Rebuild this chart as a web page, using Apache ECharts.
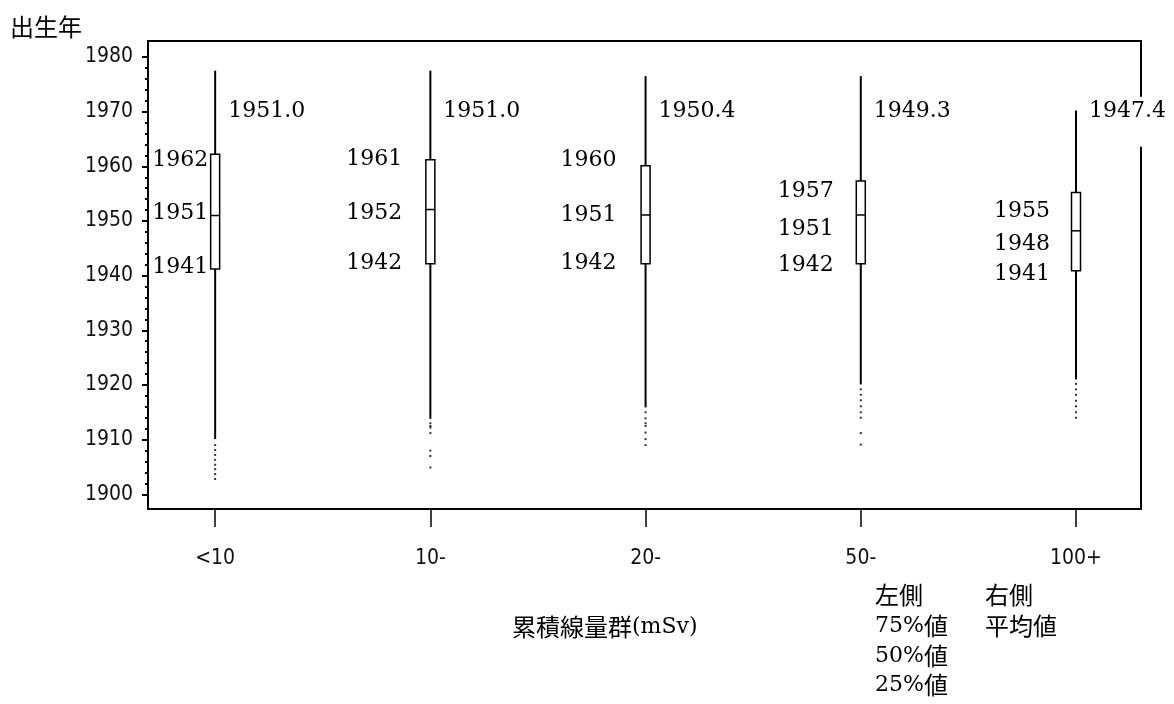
<!DOCTYPE html>
<html><head><meta charset="utf-8">
<script src="https://cdn.jsdelivr.net/npm/echarts@6/dist/echarts.min.js"></script>
<style>html,body{margin:0;padding:0;background:#fff}#c{width:1174px;height:704px}</style>
</head><body><div id="c"></div>
<script>
// ---- data ----
const categories = ['<10', '10-', '20-', '50-', '100+'];
const whiskerHigh = [1977.5, 1977.5, 1976.5, 1976.5, 1970.2];
const q3Values    = [1962.2, 1961.2, 1960.1, 1957.3, 1955.2];
const medianValues= [1951.0, 1952.1, 1951.1, 1951.1, 1948.2];
const q1Values    = [1941.2, 1942.2, 1942.2, 1942.2, 1940.9];
const whiskerLow  = [1910.1, 1913.8, 1915.9, 1920.1, 1921.0];
const meanValues  = [1951.0, 1951.0, 1950.4, 1949.3, 1947.4];
const outliersLt10 = [1909.0, 1908.1, 1907.2, 1906.3, 1905.4, 1904.6, 1903.7, 1902.8];
const outliers10   = [1913.0, 1912.5, 1912.2, 1911.2, 1908.0, 1907.0, 1904.9];
const outliers20   = [1915.0, 1913.9, 1913.0, 1912.5, 1911.3, 1910.1, 1909.0];
const outliers50   = [1919.2, 1918.2, 1917.2, 1916.1, 1915.0, 1914.0, 1911.2, 1909.1];
const outliers100  = [1920.2, 1919.2, 1918.2, 1917.1, 1916.1, 1915.0, 1914.0];
const yTickLabels = [1900, 1910, 1920, 1930, 1940, 1950, 1960, 1970, 1980];
const yMinorTicks = [1902,1904,1906,1908,1912,1914,1916,1918,1922,1924,1926,1928,1932,1934,1936,1938,
                     1942,1944,1946,1948,1952,1954,1956,1958,1962,1964,1966,1968,1972,1974,1976,1978];
const meanLabelLevel = 1970;

// ---- label placement (style, pixel offsets) ----
const labelDx = [-7, -28, -29, -27, -26];
const labelDy = [[6, -2, -2], [0, 4, 0], [-6, 0, 0], [10, 14, 2], [19, 13, 4]];

const allOutliers = [outliersLt10, outliers10, outliers20, outliers50, outliers100];
const outlierData = [];
allOutliers.forEach((arr, i) => arr.forEach(v => outlierData.push([i, v])));

const boxData = categories.map((c, i) => [i, whiskerHigh[i], q3Values[i], medianValues[i], q1Values[i], whiskerLow[i], meanValues[i]]);

const SERIF = '22px "DejaVu Serif"';
const CJK = '"Noto Sans CJK JP"';
const TICKFONT = '"DejaVu Sans Condensed", "DejaVu Sans"';

const chart = echarts.init(document.getElementById('c'), null, {renderer: 'canvas'});
chart.setOption({
  animation: false,
  backgroundColor: '#fff',
  grid: {left: 148, top: 41, right: 33, bottom: 195, show: true, borderColor: '#000', borderWidth: 2, backgroundColor: 'transparent'},
  xAxis: {
    type: 'value', min: -0.312, max: 4.302,
    axisLine: {show: true, onZero: false, lineStyle: {color: '#000', width: 2}},
    axisTick: {show: true, customValues: [0, 1, 2, 3, 4], length: 18, lineStyle: {color: '#000', width: 1.5}},
    axisLabel: {show: true, customValues: [0, 1, 2, 3, 4], formatter: v => categories[Math.round(v)],
      margin: 39, fontFamily: TICKFONT, fontSize: 21, color: '#111'},
    splitLine: {show: false}
  },
  yAxis: [{
    type: 'value', min: 1897.31, max: 1982.93,
    axisLine: {show: true, onZero: false, lineStyle: {color: '#000', width: 2}},
    axisTick: {show: true, customValues: yTickLabels, length: 6, lineStyle: {color: '#000', width: 2}},
    axisLabel: {show: true, customValues: yTickLabels, formatter: v => String(v), margin: 15,
      fontFamily: TICKFONT, fontSize: 21, color: '#111'},
    splitLine: {show: false}
  }, {
    type: 'value', min: 1897.31, max: 1982.93, position: 'left',
    axisLine: {show: false, onZero: false},
    axisTick: {show: true, customValues: yMinorTicks, length: 3, lineStyle: {color: '#000', width: 2}},
    axisLabel: {show: false},
    splitLine: {show: false}
  }],
  series: [{
    type: 'scatter', data: outlierData, symbol: 'rect', symbolSize: 2,
    itemStyle: {color: '#000'}, silent: true
  }, {
    type: 'custom', data: boxData, clip: false,
    renderItem: function (params, api) {
      const i = api.value(0);
      const x = api.coord([i, 1950])[0];
      const yH = api.coord([i, api.value(1)])[1];
      const yQ3 = api.coord([i, api.value(2)])[1];
      const yM = api.coord([i, api.value(3)])[1];
      const yQ1 = api.coord([i, api.value(4)])[1];
      const yL = api.coord([i, api.value(5)])[1];
      const yMeanLbl = api.coord([i, meanLabelLevel])[1];
      const w = 9;
      const dx = labelDx[i], dy = labelDy[i];
      const lbl = (val, yy) => ({type: 'text', style: {text: String(Math.round(val)), x: x + dx, y: yy,
        font: SERIF, fill: '#000', align: 'right', verticalAlign: 'middle'}});
      return {type: 'group', children: [
        {type: 'line', shape: {x1: x, y1: yH, x2: x, y2: yQ3}, style: {stroke: '#000', lineWidth: 2}},
        {type: 'line', shape: {x1: x, y1: yQ1, x2: x, y2: yL}, style: {stroke: '#000', lineWidth: 2}},
        {type: 'rect', shape: {x: x - w / 2, y: yQ3, width: w, height: yQ1 - yQ3}, style: {fill: '#fff', stroke: '#000', lineWidth: 1.5}},
        {type: 'line', shape: {x1: x - w / 2, y1: yM, x2: x + w / 2, y2: yM}, style: {stroke: '#000', lineWidth: 1.5}},
        lbl(api.value(2), yQ3 + dy[0]),
        lbl(api.value(3), yM + dy[1]),
        lbl(api.value(4), yQ1 + dy[2]),
        {type: 'rect', shape: {x: x + 12, y: yMeanLbl - 15, width: 82, height: 50}, style: {fill: '#fff'}},
        {type: 'text', style: {text: api.value(6).toFixed(1), x: x + 13, y: yMeanLbl,
          font: SERIF, fill: '#000', align: 'left', verticalAlign: 'middle'}}
      ]};
    }
  }],
  graphic: [
    {type: 'text', left: 10, top: 15, style: {text: '出生年', font: '24px ' + CJK, fill: '#000'}},
    {type: 'text', left: 512, top: 615, style: {text: '{c|累積線量群}{s|(mSv)}', fill: '#000',
      rich: {c: {font: '24px ' + CJK, fill: '#000'}, s: {font: '22px "DejaVu Serif"', fill: '#000'}}}},
    {type: 'text', left: 875, top: 583, style: {text: '左側', font: '24px ' + CJK, fill: '#000'}},
    {type: 'text', left: 875, top: 614, style: {text: '{s|75%}{c|値}', rich: {c: {font: '24px ' + CJK, fill: '#000'}, s: {font: '22px "DejaVu Serif"', fill: '#000'}}}},
    {type: 'text', left: 875, top: 644, style: {text: '{s|50%}{c|値}', rich: {c: {font: '24px ' + CJK, fill: '#000'}, s: {font: '22px "DejaVu Serif"', fill: '#000'}}}},
    {type: 'text', left: 875, top: 673, style: {text: '{s|25%}{c|値}', rich: {c: {font: '24px ' + CJK, fill: '#000'}, s: {font: '22px "DejaVu Serif"', fill: '#000'}}}},
    {type: 'text', left: 985, top: 583, style: {text: '右側', font: '24px ' + CJK, fill: '#000'}},
    {type: 'text', left: 985, top: 614, style: {text: '平均値', font: '24px ' + CJK, fill: '#000'}}
  ]
});
</script>
</body></html>
